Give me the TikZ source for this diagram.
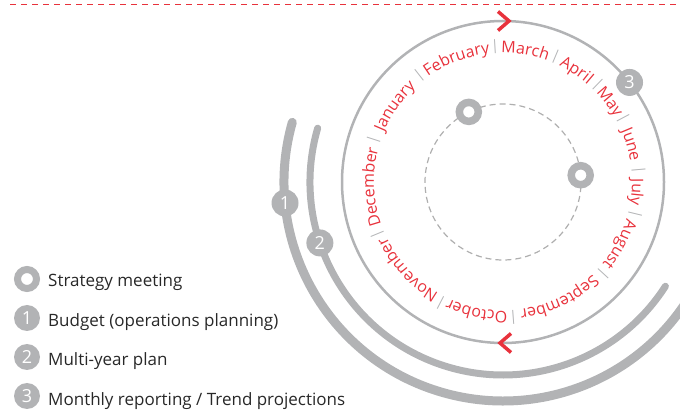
\documentclass[tikz,border=0pt]{standalone}
\usepackage{fontspec}
\setmainfont{Open Sans}
\usetikzlibrary{calc,decorations.text}
\definecolor{eyred}{RGB}{232,50,60}
\definecolor{ringgray}{RGB}{178,179,181}
\definecolor{dashgray}{RGB}{175,175,175}
\definecolor{legendtext}{RGB}{40,40,40}

\newcommand\monthfont{\fontsize{16}{16}\selectfont}
\newcommand\monthradius{129}
% month name centred on a clockwise arc between two separators
\newcommand\monthlabel[3]{%
  \path[decorate, decoration={text along path, text align=center,
      text={|\monthfont\color{eyred}|#3}}]
    ($(C)+(#1:\monthradius)$) arc[start angle=#1, end angle=#2, radius=\monthradius];}
% radial separator bar between two months
\newcommand\monthsep[1]{%
  \node[sepbar, rotate=#1-90] at ($(C)+(#1:136)$) {|};}

\begin{document}
\begin{tikzpicture}[x=1pt, y=1pt,
  track/.style={draw=ringgray, line cap=round},
  badge/.style={circle, fill=ringgray, text=white, inner sep=0pt,
    minimum size=27pt, font=\fontsize{18}{18}\selectfont},
  hollow/.style={circle, draw=ringgray, line width=7.5pt, fill=white,
    minimum size=19pt, inner sep=0pt},
  keybadge/.style={badge, minimum size=26pt},
  keyhollow/.style={hollow, line width=7pt, minimum size=19pt},
  keytext/.style={anchor=base west, inner sep=0pt, text=legendtext,
    font=\fontsize{17}{17}\selectfont},
  sepbar/.style={inner sep=0pt, text=ringgray, font=\fontsize{14}{14}\selectfont},
  chevron/.style={draw=eyred, line width=3.5pt, miter limit=10},
]
\useasboundingbox (0,0) rectangle (680,412);
\clip (0,0) rectangle (680,412);

\coordinate (C) at (503,230);

% red rule along the top
\coordinate (ruleL) at (10,407.5);
\coordinate (ruleR) at (680,407.5);
\draw[eyred, line width=1.2pt, dash pattern=on 6pt off 5pt] (ruleL) -- (ruleR);

% outer planning tracks
\draw[track, line width=9pt] ($(C)+(164.2:219)$)
  arc[start angle=164.2, end angle=330, radius=219];
\draw[track, line width=7pt] ($(C)+(163.8:193)$)
  arc[start angle=163.8, end angle=327.3, radius=193];

% monthly cycle
\draw[ringgray, line width=2.5pt] (C) circle[radius=161];
\draw[dashgray, line width=1.2pt, dash pattern=on 6pt off 4pt] (C) circle[radius=78];

% direction chevrons
\coordinate (arrowtop) at ($(C)+(90:161)$);
\coordinate (arrowbot) at ($(C)+(270:161)$);
\draw[chevron] ($(arrowtop)+(-5,9.5)$) -- ($(arrowtop)+(6,0)$) -- ($(arrowtop)+(-5,-9.5)$);
\draw[chevron] ($(arrowbot)+(8,9.5)$) -- ($(arrowbot)+(-3,0)$) -- ($(arrowbot)+(8,-9.5)$);

% months
\monthlabel{162}{128}{January}
\monthlabel{128}{93.4}{February}
\monthlabel{93.4}{67.3}{March}
\monthlabel{67.3}{45.9}{April}
\monthlabel{45.9}{27.9}{May}
\monthlabel{27.9}{4.9}{June}
\monthlabel{4.9}{-13.7}{July}
\monthlabel{-13.7}{-42.6}{August}
\monthlabel{-42.6}{-85.7}{September}
\monthlabel{-85.7}{-117.3}{October}
\monthlabel{-117.3}{-157.5}{November}
\monthlabel{-157.5}{-198}{December}
\foreach \a in {162,128,93.4,67.3,45.9,27.9,4.9,-13.7,-42.6,-85.7,-117.3,-157.5}
  {\monthsep{\a}}

% markers
\node[hollow] (meet1) at ($(C)+(116:78)$) {};
\node[hollow] (meet2) at ($(C)+(5:78)$) {};
\node[badge] (b1) at ($(C)+(185.5:219)$) {1};
\node[badge] (b2) at ($(C)+(198.4:193)$) {2};
\node[badge] (b3) at ($(C)+(38.2:161)$) {3};

% legend
\node[keyhollow] (k0) at (27,133) {};
\node[keybadge] (k1) at (27,94) {1};
\node[keybadge] (k2) at (27,55) {2};
\node[keybadge] (k3) at (27,16) {3};
\node[keytext] (t0) at (48,125) {Strategy meeting};
\node[keytext] (t1) at (48,85) {Budget (operations planning)};
\node[keytext] (t2) at (48,46) {Multi-year plan};
\node[keytext] (t3) at (48,6) {Monthly reporting / Trend projections};
\end{tikzpicture}
\end{document}
